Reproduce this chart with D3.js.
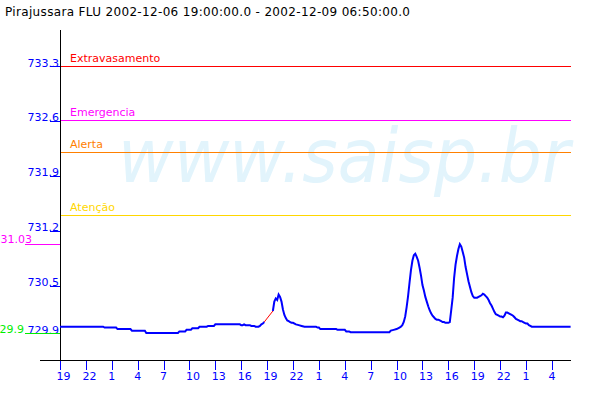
<!DOCTYPE html>
<html><head><meta charset="utf-8">
<script src="https://cdn.jsdelivr.net/npm/d3@7"></script>
<style>html,body{margin:0;padding:0;background:#fff;} svg{display:block;font-family:"DejaVu Sans",sans-serif;}</style>
</head><body><svg id="c" width="600" height="400"></svg>
<script>
const titleText = "Pirajussara FLU 2002-12-06 19:00:00.0 - 2002-12-09 06:50:00.0";
const periodStart = "2002-12-06T19:00";
const periodEnd = "2002-12-09T06:50";
const times = [
"2002-12-06T19:00","2002-12-07T00:00","2002-12-07T00:10","2002-12-07T01:30","2002-12-07T01:40","2002-12-07T03:10","2002-12-07T03:20","2002-12-07T04:50","2002-12-07T05:00","2002-12-07T08:40","2002-12-07T08:50","2002-12-07T09:30","2002-12-07T09:40","2002-12-07T10:10","2002-12-07T10:20","2002-12-07T11:00","2002-12-07T11:10","2002-12-07T12:00","2002-12-07T12:10","2002-12-07T12:50","2002-12-07T13:00","2002-12-07T15:50","2002-12-07T16:00","2002-12-07T16:10","2002-12-07T16:20","2002-12-07T16:30","2002-12-07T17:00","2002-12-07T17:10","2002-12-07T17:30","2002-12-07T17:40","2002-12-07T18:00","2002-12-07T18:10","2002-12-07T18:20","2002-12-07T18:30","2002-12-07T18:40",
"2002-12-07T19:40","2002-12-07T19:50","2002-12-07T20:00","2002-12-07T20:10","2002-12-07T20:20","2002-12-07T20:30","2002-12-07T20:40","2002-12-07T20:50","2002-12-07T21:00","2002-12-07T21:10","2002-12-07T21:20","2002-12-07T21:30","2002-12-07T21:40","2002-12-07T21:50","2002-12-07T22:00","2002-12-07T22:20","2002-12-07T22:40","2002-12-07T23:00","2002-12-07T23:20",
"2002-12-08T00:40","2002-12-08T00:50","2002-12-08T01:00","2002-12-08T01:10","2002-12-08T03:00","2002-12-08T03:10","2002-12-08T04:00","2002-12-08T04:10","2002-12-08T04:30","2002-12-08T04:40","2002-12-08T09:10","2002-12-08T09:20","2002-12-08T09:40","2002-12-08T10:00","2002-12-08T10:10","2002-12-08T10:20","2002-12-08T10:30","2002-12-08T10:40","2002-12-08T10:50",
"2002-12-08T11:00","2002-12-08T11:10","2002-12-08T11:20","2002-12-08T11:30","2002-12-08T11:40","2002-12-08T11:50","2002-12-08T12:00","2002-12-08T12:10","2002-12-08T12:20","2002-12-08T12:30","2002-12-08T12:40","2002-12-08T12:50","2002-12-08T13:00","2002-12-08T13:10","2002-12-08T13:20","2002-12-08T13:30","2002-12-08T13:40","2002-12-08T13:50","2002-12-08T14:00","2002-12-08T14:10","2002-12-08T14:20","2002-12-08T14:30","2002-12-08T14:40","2002-12-08T14:50","2002-12-08T15:00","2002-12-08T15:10","2002-12-08T15:20","2002-12-08T15:30","2002-12-08T15:40","2002-12-08T15:50","2002-12-08T16:00","2002-12-08T16:10",
"2002-12-08T16:20","2002-12-08T16:30","2002-12-08T16:40","2002-12-08T16:50","2002-12-08T17:00","2002-12-08T17:10","2002-12-08T17:20","2002-12-08T17:30","2002-12-08T17:40","2002-12-08T17:50","2002-12-08T18:00","2002-12-08T18:10","2002-12-08T18:20","2002-12-08T18:30","2002-12-08T18:40","2002-12-08T18:50","2002-12-08T19:00","2002-12-08T19:10","2002-12-08T19:20","2002-12-08T19:30","2002-12-08T19:40","2002-12-08T19:50","2002-12-08T20:00","2002-12-08T20:10","2002-12-08T20:20","2002-12-08T20:30","2002-12-08T20:40","2002-12-08T20:50","2002-12-08T21:00","2002-12-08T21:10","2002-12-08T21:20","2002-12-08T21:30","2002-12-08T21:40","2002-12-08T21:50","2002-12-08T22:00","2002-12-08T22:10","2002-12-08T22:20","2002-12-08T22:30","2002-12-08T22:40","2002-12-08T22:50","2002-12-08T23:00","2002-12-08T23:10","2002-12-08T23:20","2002-12-08T23:30","2002-12-08T23:40","2002-12-08T23:50",
"2002-12-09T00:00","2002-12-09T00:10","2002-12-09T00:20","2002-12-09T00:30","2002-12-09T00:40","2002-12-09T00:50","2002-12-09T01:00","2002-12-09T01:10","2002-12-09T01:20","2002-12-09T01:30","2002-12-09T01:40","2002-12-09T06:10"
];
const levels = [
729.98,729.98,729.97,729.97,729.95,729.95,729.93,729.93,729.90,729.90,729.92,729.92,729.94,729.94,729.96,729.96,729.98,729.98,729.99,729.99,730.01,730.01,730.00,730.00,730.01,730.00,730.00,729.99,729.99,729.98,729.98,729.99,730.01,730.02,730.04,
730.18,730.30,730.34,730.32,730.39,730.36,730.30,730.20,730.13,730.09,730.06,730.05,730.04,730.03,730.03,730.01,730.00,729.99,729.98,
729.98,729.97,729.97,729.95,729.95,729.94,729.94,729.92,729.92,729.91,729.91,729.93,729.94,729.95,729.96,729.97,729.98,730.00,730.04,
730.11,730.23,730.37,730.54,730.70,730.82,730.89,730.91,730.87,730.82,730.73,730.63,730.51,730.44,730.36,730.30,730.24,730.19,730.15,730.12,730.10,730.08,730.07,730.07,730.06,730.05,730.04,730.04,730.03,730.03,730.03,730.04,
730.19,730.35,730.60,730.77,730.88,730.97,731.03,731.00,730.93,730.86,730.74,730.65,730.56,730.49,730.42,730.37,730.35,730.35,730.35,730.36,730.37,730.38,730.40,730.39,730.37,730.35,730.32,730.28,730.25,730.21,730.17,730.14,730.13,730.12,730.11,730.11,730.10,730.12,730.16,730.16,730.15,730.14,730.13,730.12,730.10,730.08,
730.07,730.06,730.05,730.05,730.04,730.03,730.02,730.02,730.00,729.99,729.98,729.98
];
const gapStart = "2002-12-07T18:40"; // estimated (red) segment
const gapEnd = "2002-12-07T19:40";
const thresholdNames = ["Extravasamento", "Emergencia", "Alerta", "Atenção"];
const thresholdValues = [733.3, 732.6, 732.2, 731.4];
const yTickValues = [733.3, 732.6, 731.9, 731.2, 730.5, 729.9];
const maxLevel = 731.03;
const minLevel = 729.9;
const watermarkText = "www.saisp.br";

const thresholdColors = ["#ff0000", "#ff00ff", "#ff8000", "#ffd700"];

const parse = d3.utcParse("%Y-%m-%dT%H:%M");
const data = times.map((t, i) => ({t: parse(t), v: levels[i]}));
const t0 = parse(periodStart), t1 = parse(periodEnd);

const svg = d3.select("#c");
const x = d3.scaleUtc().domain([t0, t1]).range([60, 60 + 59.8333 * 8.63]);
const y = d3.scaleLinear().domain([729.9, 733.3]).range([333, 66]);
const plotRight = x(data[data.length - 1].t);

// title
svg.append("text").attr("x", 5).attr("y", 16).attr("font-size", 12).attr("fill", "#000")
  .attr("textLength", 405).attr("lengthAdjust", "spacing").text(titleText);

// watermark
svg.append("text").attr("x", 118).attr("y", 182).attr("font-size", 74)
  .attr("font-style", "italic").attr("fill", "#e2f4fc")
  .attr("textLength", 452).attr("lengthAdjust", "spacingAndGlyphs").text(watermarkText);

// thresholds
thresholdValues.forEach((v, i) => {
  svg.append("line").attr("x1", 60).attr("x2", plotRight).attr("y1", y(v)).attr("y2", y(v))
    .attr("stroke", thresholdColors[i]).attr("stroke-width", 1).attr("shape-rendering", "crispEdges");
  svg.append("text").attr("x", 70).attr("y", y(v) - 4.5).attr("font-size", 11)
    .attr("fill", thresholdColors[i]).text(thresholdNames[i]);
});

// y axis
const yAxis = d3.axisLeft(y).tickValues(yTickValues).tickSize(10).tickFormat(d3.format(".1f"));
const gy = svg.append("g").attr("transform", "translate(60,0)").call(yAxis);
gy.select(".domain").remove();
gy.selectAll(".tick line").attr("stroke", "#0000ff").attr("shape-rendering", "crispEdges");
gy.selectAll(".tick text").attr("x", -1).attr("dy", 0).attr("fill", "#0000ff")
  .attr("font-size", 11).attr("font-family", "DejaVu Sans");

// x axis
const xTicks = d3.utcHour.range(t0, t1, 3);
const xAxis = d3.axisBottom(x).tickValues(xTicks).tickSize(10).tickFormat(d3.utcFormat("%-H"));
const gx = svg.append("g").attr("transform", "translate(0,360)").call(xAxis);
gx.select(".domain").remove();
gx.selectAll(".tick line").attr("stroke", "#0000ff").attr("shape-rendering", "crispEdges");
gx.selectAll(".tick text").attr("x", -4).attr("y", 20).attr("dy", 0).attr("text-anchor", "start")
  .attr("fill", "#0000ff").attr("font-size", 11).attr("font-family", "DejaVu Sans");

// axis lines
svg.append("line").attr("x1", 60).attr("x2", 60).attr("y1", 30).attr("y2", 360)
  .attr("stroke", "#000").attr("shape-rendering", "crispEdges");
svg.append("line").attr("x1", 40).attr("x2", plotRight).attr("y1", 360).attr("y2", 360)
  .attr("stroke", "#000").attr("shape-rendering", "crispEdges");

// max / min markers
svg.append("line").attr("x1", 25).attr("x2", 60).attr("y1", y(maxLevel)).attr("y2", y(maxLevel))
  .attr("stroke", "#ff00ff").attr("shape-rendering", "crispEdges");
svg.append("text").attr("x", 32).attr("y", y(maxLevel) - 1).attr("text-anchor", "end")
  .attr("font-size", 11).attr("fill", "#ff00ff").text(d3.format(".2f")(maxLevel));
svg.append("line").attr("x1", 25).attr("x2", 60).attr("y1", y(minLevel)).attr("y2", y(minLevel))
  .attr("stroke", "#00ee00").attr("shape-rendering", "crispEdges");
svg.append("text").attr("x", 24).attr("y", y(minLevel)).attr("text-anchor", "end")
  .attr("font-size", 11).attr("fill", "#00ee00").text(d3.format(".1f")(minLevel));

// data line
const gs = parse(gapStart), ge = parse(gapEnd);
const iGap = data.findIndex(d => +d.t === +gs);
const line = d3.line().x(d => x(d.t)).y(d => y(d.v));
[data.slice(0, iGap + 1), data.slice(iGap + 1)].forEach(seg => {
  svg.append("path").attr("d", line(seg)).attr("fill", "none").attr("stroke", "#0000ff").attr("stroke-width", 2);
});
svg.append("path").attr("d", line(data.filter(d => +d.t >= +gs && +d.t <= +ge)))
  .attr("fill", "none").attr("stroke", "#ff0000").attr("stroke-width", 1);
</script></body></html>
